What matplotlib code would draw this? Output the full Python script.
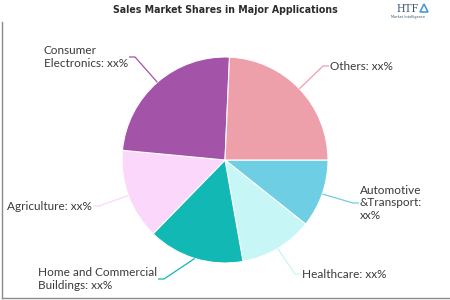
import numpy as np
import matplotlib

matplotlib.use("Agg")
import matplotlib.pyplot as plt

# ----------------------------------------------------------------------
# data
# ----------------------------------------------------------------------
APPLICATIONS = ["Automotive\n&Transport", "Healthcare", "Home and Commercial\nBuildings",
                "Agriculture", "Consumer\nElectronics", "Others"]
SHARES = [10.7, 11.5, 15.1, 14.2, 24.2, 24.3]
SHARE_TEXT = ["xx%"] * 6
VALUE_ON_NEW_LINE = [True, False, False, False, False, False]
COLORS = ["#6ecee4", "#c6f6f6", "#12b8b4", "#fbd8fb", "#a354a8", "#eda0a9"]

TITLE = "Sales Market Shares in Major Applications"

# label layout in pixel space: anchor x, y, side (+1 text to right, -1 to left)
LABEL_POS = [(360, 203, 1), (302, 274, 1), (157, 279, -1),
             (92, 206, -1), (128, 57, -1), (330, 66, 1)]

CENTER = (225, 160)
RADIUS = 103
INK = "#3a3a3a"
LABEL_FONT = ["Lato", "DejaVu Sans"]

fig = plt.figure(figsize=(4.5, 3.0), dpi=100, facecolor="white")
ax = fig.add_axes([0, 0, 1, 1])

wedges, _ = ax.pie(SHARES, colors=COLORS, startangle=0, counterclock=True,
                   center=CENTER, radius=RADIUS,
                   wedgeprops=dict(edgecolor="white", linewidth=0.8))
ax.set_xlim(0, 450)
ax.set_ylim(300, 0)
ax.set_aspect("equal")
ax.axis("off")

# leader lines + labels
for w, name, val, brk, (tx, ty, side), col in zip(wedges, APPLICATIONS, SHARE_TEXT,
                                                  VALUE_ON_NEW_LINE, LABEL_POS, COLORS):
    mid = np.deg2rad((w.theta1 + w.theta2) / 2)
    sx = CENTER[0] + RADIUS * np.cos(mid)
    sy = CENTER[1] + RADIUS * np.sin(mid)
    ex = tx - 7 * side
    ax.plot([sx, ex, tx - 1 * side], [sy, ty, ty], color=col, linewidth=0.9,
            solid_capstyle="butt", zorder=1)
    label = f"{name}:\n{val}" if brk else f"{name}: {val}"
    ax.text(tx, ty, label, ha="left" if side > 0 else "right",
            va="center", multialignment="left", fontsize=8.5, color=INK,
            family=LABEL_FONT, linespacing=1.2)

# title and logo
fig.text(0.5, 1 - 10 / 300, TITLE, ha="center", va="center", fontsize=7.6,
         fontweight="heavy", fontstretch="condensed", color="#2b2b2b",
         family=["DejaVu Sans"])
fig.text(408 / 450, 1 - 9 / 300, "HTF", ha="center", va="center", fontsize=8.5,
         color="#3a5670", family=["Liberation Serif", "DejaVu Serif"])
fig.text(408 / 450, 1 - 17 / 300, "Market Intelligence", ha="center", va="center",
         fontsize=2.5, color="#3a5670")
ax.plot([424], [8], marker="^", markersize=6, color="#4a9ad8",
        markerfacecolor="none", markeredgewidth=1.2, clip_on=False)

# frame lines (left and bottom)
ax.plot([2, 2], [22, 298], color="#8a8a8a", linewidth=1.0, clip_on=False)
ax.plot([2, 450], [298, 298], color="#8a8a8a", linewidth=1.0, clip_on=False)

fig.savefig("out.png", dpi=100, facecolor="white")
